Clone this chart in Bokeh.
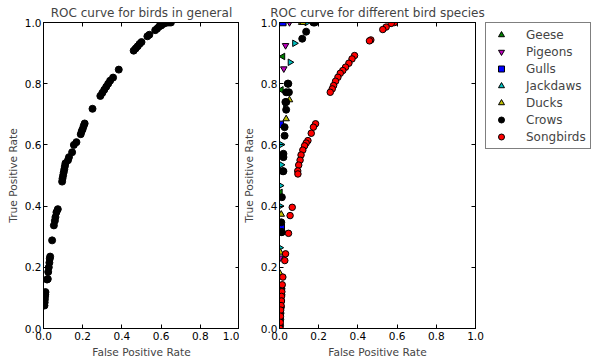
import math
from bokeh.plotting import figure
from bokeh.models import (Range1d, FixedTicker, PrintfTickFormatter, LinearAxis,
                          Legend, LegendItem, CustomJSTickFormatter)
from bokeh.layouts import row
from bokeh.embed import file_html
from bokeh.resources import INLINE

# ---------------- data ----------------
general_fpr = [0.005, 0.006, 0.007, 0.008, 0.009, 0.010,
               0.018, 0.022, 0.024, 0.027, 0.030, 0.032, 0.034,
               0.044,
               0.053, 0.058, 0.061, 0.066, 0.073,
               0.095, 0.097, 0.100, 0.103, 0.106, 0.109, 0.112,
               0.125, 0.130,
               0.146, 0.155, 0.168,
               0.190, 0.195, 0.200, 0.205, 0.210,
               0.250,
               0.290, 0.300, 0.310, 0.320, 0.330, 0.340, 0.355,
               0.384,
               0.460, 0.470, 0.480, 0.490, 0.500,
               0.530, 0.540,
               0.570, 0.580, 0.590, 0.600, 0.610, 0.620, 0.630, 0.640, 0.650]
general_tpr = [0.075, 0.085, 0.095, 0.105, 0.112, 0.119,
               0.160, 0.162, 0.185, 0.200, 0.215, 0.228, 0.235,
               0.288,
               0.337, 0.352, 0.364, 0.380, 0.390,
               0.480, 0.490, 0.500, 0.510, 0.520, 0.530, 0.540,
               0.550, 0.560,
               0.576, 0.600, 0.609,
               0.635, 0.645, 0.652, 0.662, 0.670,
               0.718,
               0.760, 0.770, 0.780, 0.790, 0.800, 0.810, 0.820,
               0.846,
               0.908, 0.915, 0.922, 0.930, 0.936,
               0.955, 0.960,
               0.975, 0.980, 0.987, 0.990, 0.995, 0.998, 1.000, 1.000, 1.000]

geese_fpr = [0.017, 0.009, 0.004]
geese_tpr = [0.889, 0.780, 0.445]

pigeons_fpr = [0.051, 0.031, 0.022, 0.003]
pigeons_tpr = [1.000, 0.925, 0.849, 0.231]

gulls_fpr = [0.017, 0.004, 0.009]
gulls_tpr = [1.000, 0.667, 0.331]

jackdaws_fpr = [0.140, 0.077, 0.054, 0.031, 0.009, 0.009, 0.004, 0.004, 0.002]
jackdaws_tpr = [1.000, 0.932, 0.870, 0.734, 0.601, 0.535, 0.467, 0.400, 0.264]

ducks_fpr = [0.113, 0.120, 0.051, 0.034, 0.020, 0.009, 0.004, 0.002]
ducks_tpr = [1.000, 1.000, 0.747, 0.685, 0.560, 0.373, 0.249, 0.180]

crows_fpr = [0.180, 0.173, 0.136, 0.116, 0.042, 0.045, 0.034, 0.048, 0.030, 0.034,
             0.034, 0.026, 0.026, 0.020, 0.020, 0.017, 0.020, 0.012, 0.009, 0.011,
             0.012, 0.010, 0.010, 0.008, 0.007, 0.005, 0.004, 0.003]
crows_tpr = [1.000, 1.000, 0.970, 0.947, 0.800, 0.800, 0.772, 0.772, 0.740, 0.740,
             0.715, 0.658, 0.630, 0.571, 0.560, 0.514, 0.514, 0.429, 0.347, 0.315,
             0.315, 0.130, 0.110, 0.090, 0.070, 0.050, 0.030, 0.010]

songbirds_fpr = [0.587, 0.570, 0.544, 0.527, 0.466, 0.459,
                 0.383, 0.370, 0.354, 0.337, 0.323, 0.310, 0.298, 0.286, 0.276, 0.269, 0.259,
                 0.184, 0.173, 0.162, 0.145, 0.136, 0.128, 0.119, 0.110, 0.105, 0.098, 0.093, 0.094,
                 0.065, 0.054, 0.046, 0.031, 0.027, 0.017, 0.014, 0.012, 0.010, 0.010, 0.008,
                 0.006, 0.005, 0.004, 0.003]
songbirds_tpr = [1.000, 0.997, 0.985, 0.977, 0.943, 0.940,
                 0.892, 0.881, 0.867, 0.854, 0.843, 0.834, 0.821, 0.808, 0.794, 0.783, 0.772,
                 0.669, 0.658, 0.638, 0.614, 0.606, 0.597, 0.583, 0.567, 0.550, 0.534, 0.515, 0.505,
                 0.396, 0.369, 0.311, 0.244, 0.222, 0.168, 0.143, 0.120, 0.105, 0.090, 0.075,
                 0.060, 0.040, 0.020, 0.000]

ticks = [0.0, 0.2, 0.4, 0.6, 0.8, 1.0]

species_names = ["Geese", "Pigeons", "Gulls", "Jackdaws", "Ducks", "Crows", "Songbirds"]

FONT = "DejaVu Sans"


def base_axis(ax):
    ax.ticker = FixedTicker(ticks=ticks)
    ax.major_tick_in = 4
    ax.major_tick_out = 0
    ax.minor_tick_line_color = None
    ax.axis_line_color = "black"
    ax.major_tick_line_color = "black"


def style(p, title, offset):
    p.title.text = title
    p.title.text_font = FONT
    p.title.text_font_size = "12px"
    p.title.text_font_style = "normal"
    p.title.align = "center"
    p.title.standoff = 5
    p.title.offset = offset
    p.outline_line_color = "black"
    p.outline_line_width = 1
    p.xgrid.visible = False
    p.ygrid.visible = False
    p.background_fill_color = "white"
    p.border_fill_color = "white"
    xa = p.xaxis[0]
    ya = p.yaxis[0]
    for ax in (xa, ya):
        base_axis(ax)
        ax.formatter = PrintfTickFormatter(format="%.1f")
        ax.major_label_text_font = FONT
        ax.major_label_text_font_size = "10.5px"
        ax.major_label_text_color = "black"
        ax.major_label_standoff = 3
        ax.axis_label_text_font = FONT
        ax.axis_label_text_font_size = "10.6px"
        ax.axis_label_text_font_style = "normal"
        ax.axis_label_standoff = 3
    ya.major_label_standoff = 2
    xa.axis_label = "False Positive Rate"
    ya.axis_label = "True Positive Rate"
    # mirrored inward ticks on top and right, without labels
    for loc in ("above", "right"):
        ax = LinearAxis(formatter=CustomJSTickFormatter(code="return ''"))
        base_axis(ax)
        ax.major_label_standoff = 0
        ax.major_label_text_font_size = "1px"
        p.add_layout(ax, loc)


p1 = figure(frame_width=196, frame_height=306, output_backend="svg", toolbar_location=None,
            x_range=Range1d(0, 1), y_range=Range1d(0, 1),
            min_border_left=43, min_border_right=0, min_border_top=0, min_border_bottom=0)
style(p1, "ROC curve for birds in general", 0)
p1.scatter(general_fpr, general_tpr, marker="circle", size=7, fill_color="black",
           line_color="black")

p2 = figure(frame_width=196, frame_height=306, output_backend="svg", toolbar_location=None,
            x_range=Range1d(0, 1), y_range=Range1d(0, 1),
            min_border_left=0, min_border_right=10, min_border_top=0, min_border_bottom=0)
style(p2, "ROC curve for different bird species", -5)

# legend panel: a bare figure holding only the legend
p3 = figure(width=106, height=340, output_backend="svg", toolbar_location=None,
            x_range=Range1d(0, 1), y_range=Range1d(0, 1), title=None,
            x_axis_location=None, y_axis_location=None,
            min_border_left=0, min_border_right=0, min_border_top=22, min_border_bottom=0,
            outline_line_color=None)
p3.xgrid.visible = False
p3.ygrid.visible = False
p3.background_fill_color = "white"
p3.border_fill_color = "white"

styles = {
    "Geese": (geese_fpr, geese_tpr, "triangle", math.pi / 2, "#008000"),
    "Pigeons": (pigeons_fpr, pigeons_tpr, "inverted_triangle", 0.0, "#bf00bf"),
    "Gulls": (gulls_fpr, gulls_tpr, "square", 0.0, "#0000ff"),
    "Jackdaws": (jackdaws_fpr, jackdaws_tpr, "triangle", -math.pi / 2, "#00bfbf"),
    "Ducks": (ducks_fpr, ducks_tpr, "triangle", 0.0, "#bfbf00"),
    "Crows": (crows_fpr, crows_tpr, "circle", 0.0, "black"),
    "Songbirds": (songbirds_fpr, songbirds_tpr, "circle", 0.0, "#ff0000"),
}
items = []
nan = float("nan")
for name in species_names:
    xs, ys, marker, ang, col = styles[name]
    size = 7 if name == "Crows" else 6.5
    p2.scatter(xs, ys, marker=marker, angle=ang, size=size, fill_color=col,
               line_color="black", line_width=1)
    # non-drawn twin renderer used only for the legend swatch
    r = p3.scatter([nan], [nan], marker=marker, angle=ang, size=6, fill_color=col,
                   line_color="black", line_width=1)
    items.append(LegendItem(label=name, renderers=[r]))

legend = Legend(items=items, location="top_left", margin=0, padding=4,
                border_line_color="black", border_line_width=1,
                background_fill_color="white", background_fill_alpha=1.0,
                label_text_font=FONT, label_text_font_size="12px",
                glyph_width=22, glyph_height=15, label_height=15,
                label_standoff=14, spacing=2)
p3.add_layout(legend, "center")

layout = row(p1, p2, p3)
open("out.html", "w").write(file_html(layout, INLINE))
